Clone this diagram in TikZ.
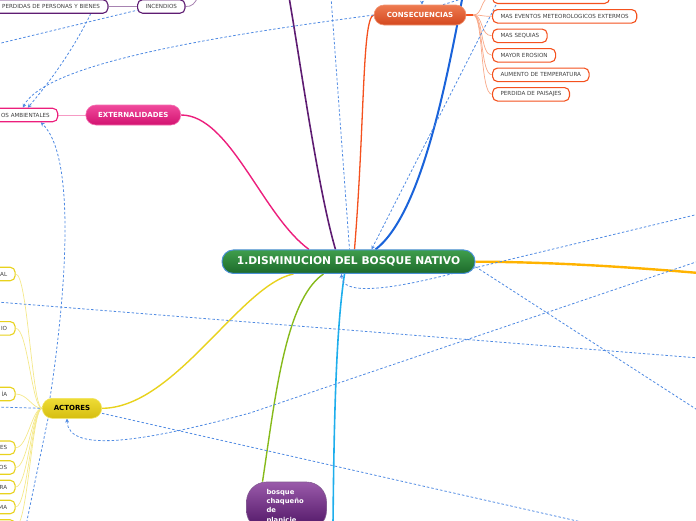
\documentclass[tikz,border=0pt]{standalone}
\usepackage{fontspec}
\setmainfont{DejaVu Sans}
\usetikzlibrary{arrows.meta}
\definecolor{mgreenA}{HTML}{3F9E4C}
\definecolor{mgreenB}{HTML}{1D6A2B}
\definecolor{mblue}{HTML}{4A90D6}
\definecolor{conA}{HTML}{EE7A50}
\definecolor{conB}{HTML}{D4481F}
\definecolor{conline}{HTML}{F4511E}
\definecolor{conthin}{HTML}{F8A888}
\definecolor{extA}{HTML}{F04A9C}
\definecolor{extB}{HTML}{D21270}
\definecolor{extline}{HTML}{EC1E7C}
\definecolor{actA}{HTML}{EEDC36}
\definecolor{actB}{HTML}{D6BE10}
\definecolor{actline}{HTML}{E8D21D}
\definecolor{actthin}{HTML}{F4E88A}
\definecolor{purline}{HTML}{5E1C72}
\definecolor{bosA}{HTML}{9A5AAA}
\definecolor{bosB}{HTML}{4C1262}
\definecolor{bluline}{HTML}{1A63DA}
\definecolor{cyanline}{HTML}{1EAEEC}
\definecolor{oliveline}{HTML}{86BA1A}
\definecolor{goldline}{HTML}{FFB300}
\definecolor{relblue}{HTML}{4F8AE2}
\pgfdeclarelayer{back}
\pgfsetlayers{back,main}

\begin{document}
\begin{tikzpicture}[x=1pt,y=-1pt,>={Stealth[length=4pt,width=4pt]},
  idea/.style={draw=mblue,line width=1pt,top color=mgreenA,bottom color=mgreenB,
    rounded corners=11.5pt,minimum width=253pt,minimum height=23.5pt,inner sep=0pt,
    text=white,font=\fontsize{10.7}{12}\selectfont\bfseries},
  topic/.style={rounded corners=10pt,minimum height=20pt,inner sep=0pt,line width=0.6pt,
    font=\fontsize{7}{8}\selectfont\bfseries},
  consbox/.style={topic,draw=conA!80,top color=conA,bottom color=conB,text=white},
  extbox/.style={topic,draw=extA!80,top color=extA,bottom color=extB,text=white},
  actbox/.style={topic,draw=actA!80,top color=actA,bottom color=actB,text=black},
  bosbox/.style={draw=bosB!70,line width=0.6pt,top color=bosA,bottom color=bosB,
    rounded corners=20pt,text width=40pt,align=left,inner xsep=20pt,inner ysep=7pt,
    text=white,font=\fontsize{6.8}{9.3}\selectfont\bfseries},
  leaf/.style={draw,fill=white,line width=1.1pt,rounded corners=5pt,minimum height=13.5pt,
    inner xsep=8pt,inner ysep=0pt,text=black!75,font=\fontsize{5.6}{6.5}\selectfont},
  cutleaf/.style={leaf,anchor=east,text width=#1,align=right},
  rel/.style={draw=relblue,line width=0.8pt,dash pattern=on 2.5pt off 2pt},
]
\useasboundingbox (0,0) rectangle (696,520);

% main idea and topics
\node[idea] (nativo) at (348.5,261.7) {1.DISMINUCION DEL BOSQUE NATIVO};
\node[consbox,minimum width=92pt] (consec) at (420,15) {CONSECUENCIAS};
\node[extbox,minimum width=95pt] (ext) at (133.3,115) {EXTERNALIDADES};
\node[actbox,minimum width=59.4pt] (actores) at (72,408.3) {ACTORES};
\node[bosbox,anchor=north] (bosque) at (286.5,481.7) {bosque\\chaqueño\\de\\planicie};

% consecuencias
\node[leaf,draw=conline,anchor=west,minimum width=117pt] (c0) at (492,-3.3) {};
\node[leaf,draw=conline,anchor=west] (c1) at (492,16.3) {MAS EVENTOS METEOROLOGICOS EXTERMOS};
\node[leaf,draw=conline,anchor=west] (c2) at (492,35.8) {MAS SEQUIAS};
\node[leaf,draw=conline,anchor=west] (c3) at (492,55.3) {MAYOR EROSION};
\node[leaf,draw=conline,anchor=west] (c4) at (492,74.8) {AUMENTO DE TEMPERATURA};
\node[leaf,draw=conline,anchor=west] (c5) at (492,94.3) {PERDIDA DE PAISAJES};

% externalidades
\node[cutleaf=60pt,draw=extline] (amb) at (58.3,115) {OS AMBIENTALES};
\node[cutleaf=110pt,draw=purline] (perd) at (108.5,6.5) {PERDIDAS DE PERSONAS Y BIENES};
\node[leaf,draw=purline] (inc) at (161.3,6.5) {INCENDIOS};

% actores
\node[cutleaf=40pt,draw=actline] (a1) at (15.7,274) {AL};
\node[cutleaf=40pt,draw=actline] (a2) at (15.7,328.3) {IO};
\node[cutleaf=40pt,draw=actline] (a3) at (15.7,394) {ÍA};
\node[cutleaf=40pt,draw=actline] (a4) at (15.7,447.7) {ES};
\node[cutleaf=40pt,draw=actline] (a5) at (15.7,467.5) {OS};
\node[cutleaf=40pt,draw=actline] (a6) at (15.7,487) {RA};
\node[cutleaf=40pt,draw=actline] (a7) at (15.7,507) {MA};
\node[cutleaf=40pt,draw=actline] (a8) at (15.7,526.5) {};

% free ends outside the frame
\coordinate (purtop) at (289,-3);
\coordinate (blutop) at (462.5,-3);
\coordinate (inctop) at (198,-3);
\coordinate (goldend) at (699,273);
\coordinate (cyanend) at (333,524);
\coordinate (offA) at (-3,44);
\coordinate (offB) at (192,-3);
\coordinate (offC) at (98,-3);
\coordinate (offD) at (331,-3);
\coordinate (offE) at (500,-3);
\coordinate (offF) at (422,-8);
\coordinate (offG) at (468,-3);
\coordinate (offL1) at (-3,302);
\coordinate (offL2) at (-3,407);
\coordinate (offR1) at (699,214);
\coordinate (offR2) at (699,261);
\coordinate (offR3) at (699,358);
\coordinate (offR4) at (699,411);
\coordinate (offS1) at (26.5,523);
\coordinate (offS2) at (586,523);

\begin{pgfonlayer}{back}
  % branches
  \draw[purline,line width=1.6pt] (purtop) .. controls (300,60) and (318,190) .. ([xshift=-13pt]nativo.north);
  \draw[conline,line width=1.3pt] (consec.west) .. controls (362,18) and (365,120) .. ([xshift=6pt]nativo.north);
  \draw[bluline,line width=2pt] (blutop) .. controls (445,90) and (420,215) .. ([xshift=27pt]nativo.north);
  \draw[extline,line width=1.4pt] (ext.east) .. controls (230,115) and (262,215) .. ([xshift=-39.5pt]nativo.north);
  \draw[actline,line width=1.4pt] (actores.east) .. controls (175,408) and (240,285) .. ([xshift=-55pt]nativo.south);
  \draw[oliveline,line width=1.4pt] ([xshift=-25pt]nativo.south) .. controls (285,300) and (275,400) .. ([xshift=-24pt]bosque.north);
  \draw[cyanline,line width=1.6pt] ([xshift=-4pt]nativo.south) .. controls (336,330) and (334,420) .. (cyanend);
  \draw[goldline,line width=2.4pt] (nativo.east) .. controls (560,262) and (640,268) .. (goldend);

  % leaves
  \draw[conline,line width=1.6pt] (consec.east) -- ++(7,0) coordinate (cfan);
  \foreach \c in {c0,c1,c2,c3,c4,c5}
    \draw[conthin,line width=0.7pt] (cfan) .. controls +(10,0) and +(-12,0) .. (\c.west);
  \draw[extline!45,line width=1pt] (amb.east) -- (ext.west);
  \draw[purline!55,line width=0.8pt] (perd.east) -- (inc.west);
  \draw[purline!55,line width=0.8pt] (inc.east) .. controls (192,7) and (195,3) .. (inctop);
  \foreach \a in {a1,a2,a3,a4,a5,a6,a7,a8}
    \draw[actthin,line width=0.7pt] (\a.east) .. controls +(12,0) and +(-10,0) .. (actores.west);

  % relations
  \draw[rel,->] (consec.west) .. controls (200,38) and (45,65) .. ([xshift=3pt]amb.north);
  \draw[rel,->] (offC) .. controls (85,30) and (60,70) .. ([xshift=8pt]amb.north);
  \draw[rel] (offA) -- (offB);
  \draw[rel,->] ([xshift=-22pt]actores.north) .. controls (62,320) and (80,160) .. ([xshift=21pt]amb.south);
  \draw[rel,<-] ([xshift=-5pt]actores.south) .. controls (68,455) and (150,440) .. (250,413) -- (offR2);
  \draw[rel] (offL1) -- (offR3);
  \draw[rel] (offL2) -- (actores.west);
  \draw[rel] ([xshift=-24pt]actores.south) -- (offS1);
  \draw[rel] ([yshift=-5pt]actores.east) -- (offS2);
  \draw[rel] ([yshift=-5pt]nativo.east) -- (offR4);
  \draw[rel,<-] ([xshift=-7pt]nativo.south) .. controls (342,295) and (385,292) .. (470,269) -- (offR1);
  \draw[rel] (offD) -- ([xshift=1pt]nativo.north);
  \draw[rel,->] (offE) -- ([xshift=23pt]nativo.north);
  \draw[rel,->] (offF) -- ([xshift=2pt]consec.north);
  \draw[rel] ([xshift=23pt]consec.north) -- (offG);
\end{pgfonlayer}
\end{tikzpicture}
\end{document}
